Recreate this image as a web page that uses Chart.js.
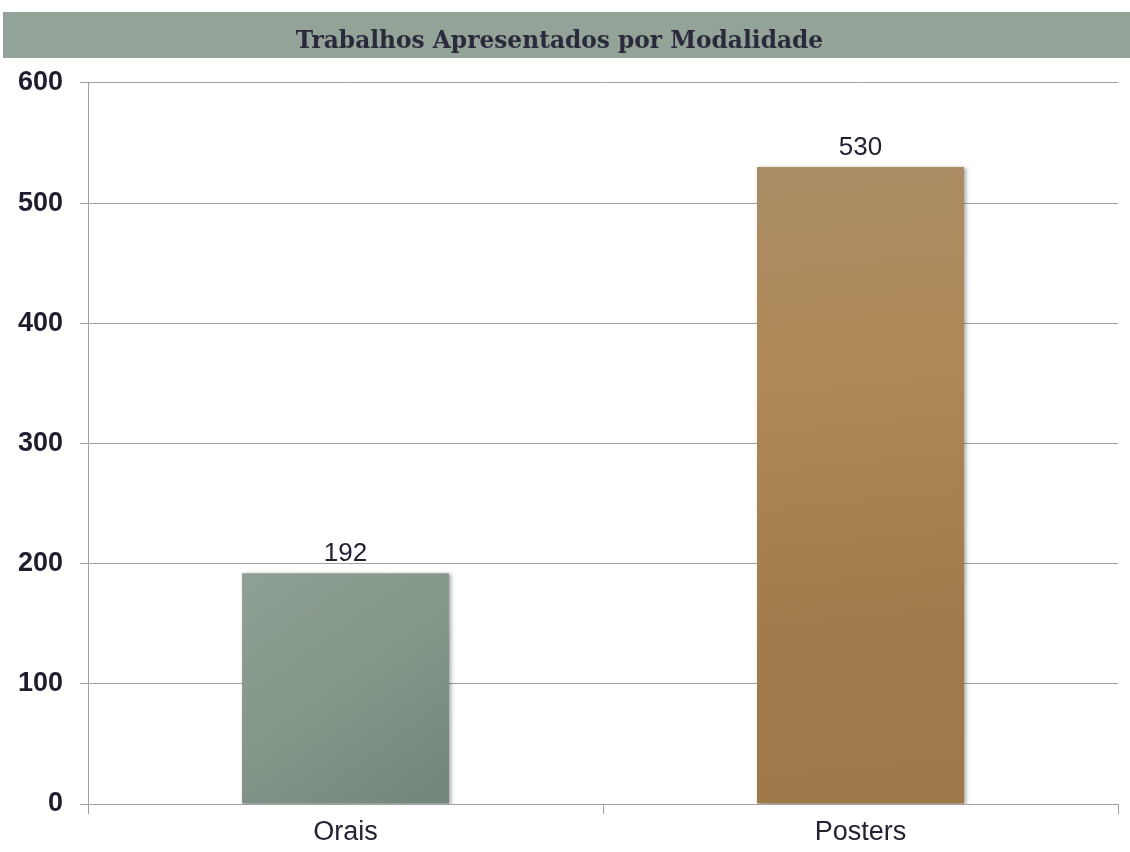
<!DOCTYPE html>
<html>
<head>
<meta charset="utf-8">
<script src="https://cdn.jsdelivr.net/npm/chart.js@4"></script>
<style>
html,body{margin:0;padding:0;background:#fff;}
#wrap{width:1130px;height:852px;}
</style>
</head>
<body>
<div id="wrap"><canvas id="c" width="1130" height="852"></canvas></div>
<script>
const titleText = "Trabalhos Apresentados por Modalidade";
const categories = ["Orais", "Posters"];
const values = [192, 530];
const yMin = 0, yMax = 600, yStep = 100;

const gradStops = [
  [[0, "#8FA094"], [0.5, "#859789"], [1, "#76887C"]],
  [[0, "#AA8C65"], [0.3, "#AF8956"], [0.75, "#A07A4A"], [1, "#9E7849"]]
];

function barFill(ctx) {
  const chart = ctx.chart;
  const area = chart.chartArea;
  if (!area) return gradStops[ctx.dataIndex][0][1];
  const xs = chart.scales.x, ys = chart.scales.y;
  const i = ctx.dataIndex;
  const cx = xs.getPixelForValue(i);
  const half = xs.width / categories.length * 0.402 / 2;
  const top = ys.getPixelForValue(values[i]);
  const bottom = ys.getPixelForValue(0);
  let g;
  if (i === 0) g = chart.ctx.createLinearGradient(cx - half, top, cx + half * 0.6, bottom);
  else g = chart.ctx.createLinearGradient(cx - half * 0.3, top, cx + half * 0.3, bottom);
  gradStops[i].forEach(s => g.addColorStop(s[0], s[1]));
  return g;
}

const bandPlugin = {
  id: "band",
  beforeDraw(chart) {
    const tb = chart.titleBlock;
    if (!tb) return;
    const c = chart.ctx;
    c.save();
    c.fillStyle = "#93A397";
    c.fillRect(3, tb.top, chart.width - 3, 46);
    c.restore();
  }
};

const shadowPlugin = {
  id: "shadow",
  beforeDatasetsDraw(chart) {
    const c = chart.ctx;
    c.save();
    c.shadowColor = "rgba(0,0,0,0.35)";
    c.shadowBlur = 4;
    c.shadowOffsetX = 2;
    c.shadowOffsetY = 1;
  },
  afterDatasetsDraw(chart) {
    chart.ctx.restore();
  }
};

const labelPlugin = {
  id: "vlabels",
  afterDatasetsDraw(chart) {
    const c = chart.ctx;
    const meta = chart.getDatasetMeta(0);
    c.save();
    c.font = "26px 'Liberation Sans', Arial, sans-serif";
    c.fillStyle = "#222233";
    c.textAlign = "center";
    c.textBaseline = "alphabetic";
    meta.data.forEach((el, i) => {
      c.fillText(String(values[i]), el.x, el.y - 12);
    });
    c.restore();
  }
};

new Chart(document.getElementById("c"), {
  type: "bar",
  data: {
    labels: categories,
    datasets: [{
      data: values,
      backgroundColor: barFill,
      borderWidth: 0,
      categoryPercentage: 1,
      barPercentage: 0.402
    }]
  },
  plugins: [bandPlugin, shadowPlugin, labelPlugin],
  options: {
    responsive: false,
    animation: false,
    layout: { padding: { top: 12, left: 1, right: 12, bottom: 0 } },
    plugins: {
      legend: { display: false },
      tooltip: { enabled: false },
      title: {
        display: true,
        text: titleText,
        color: "#2A2A3C",
        font: { family: "'DejaVu Serif', serif", size: 23.3, weight: "bold", lineHeight: 1.2 },
        padding: { top: 15.5, bottom: 27.5 }
      }
    },
    scales: {
      y: {
        min: yMin,
        max: yMax,
        ticks: {
          stepSize: yStep,
          padding: 17,
          color: "#1E1E2E",
          font: { family: "'Liberation Sans', Arial, sans-serif", size: 27, weight: "bold" }
        },
        grid: { color: "#A0A0A0", lineWidth: 1, tickLength: 8 },
        border: { color: "#A0A0A0", width: 1 }
      },
      x: {
        ticks: {
          padding: 9,
          color: "#222233",
          font: { family: "'Liberation Sans', Arial, sans-serif", size: 27, lineHeight: 0.74 }
        },
        grid: { display: true, drawOnChartArea: false, color: "#A0A0A0", tickLength: 10, offset: true },
        border: { color: "#A0A0A0", width: 1 }
      }
    }
  }
});
</script>
</body>
</html>
